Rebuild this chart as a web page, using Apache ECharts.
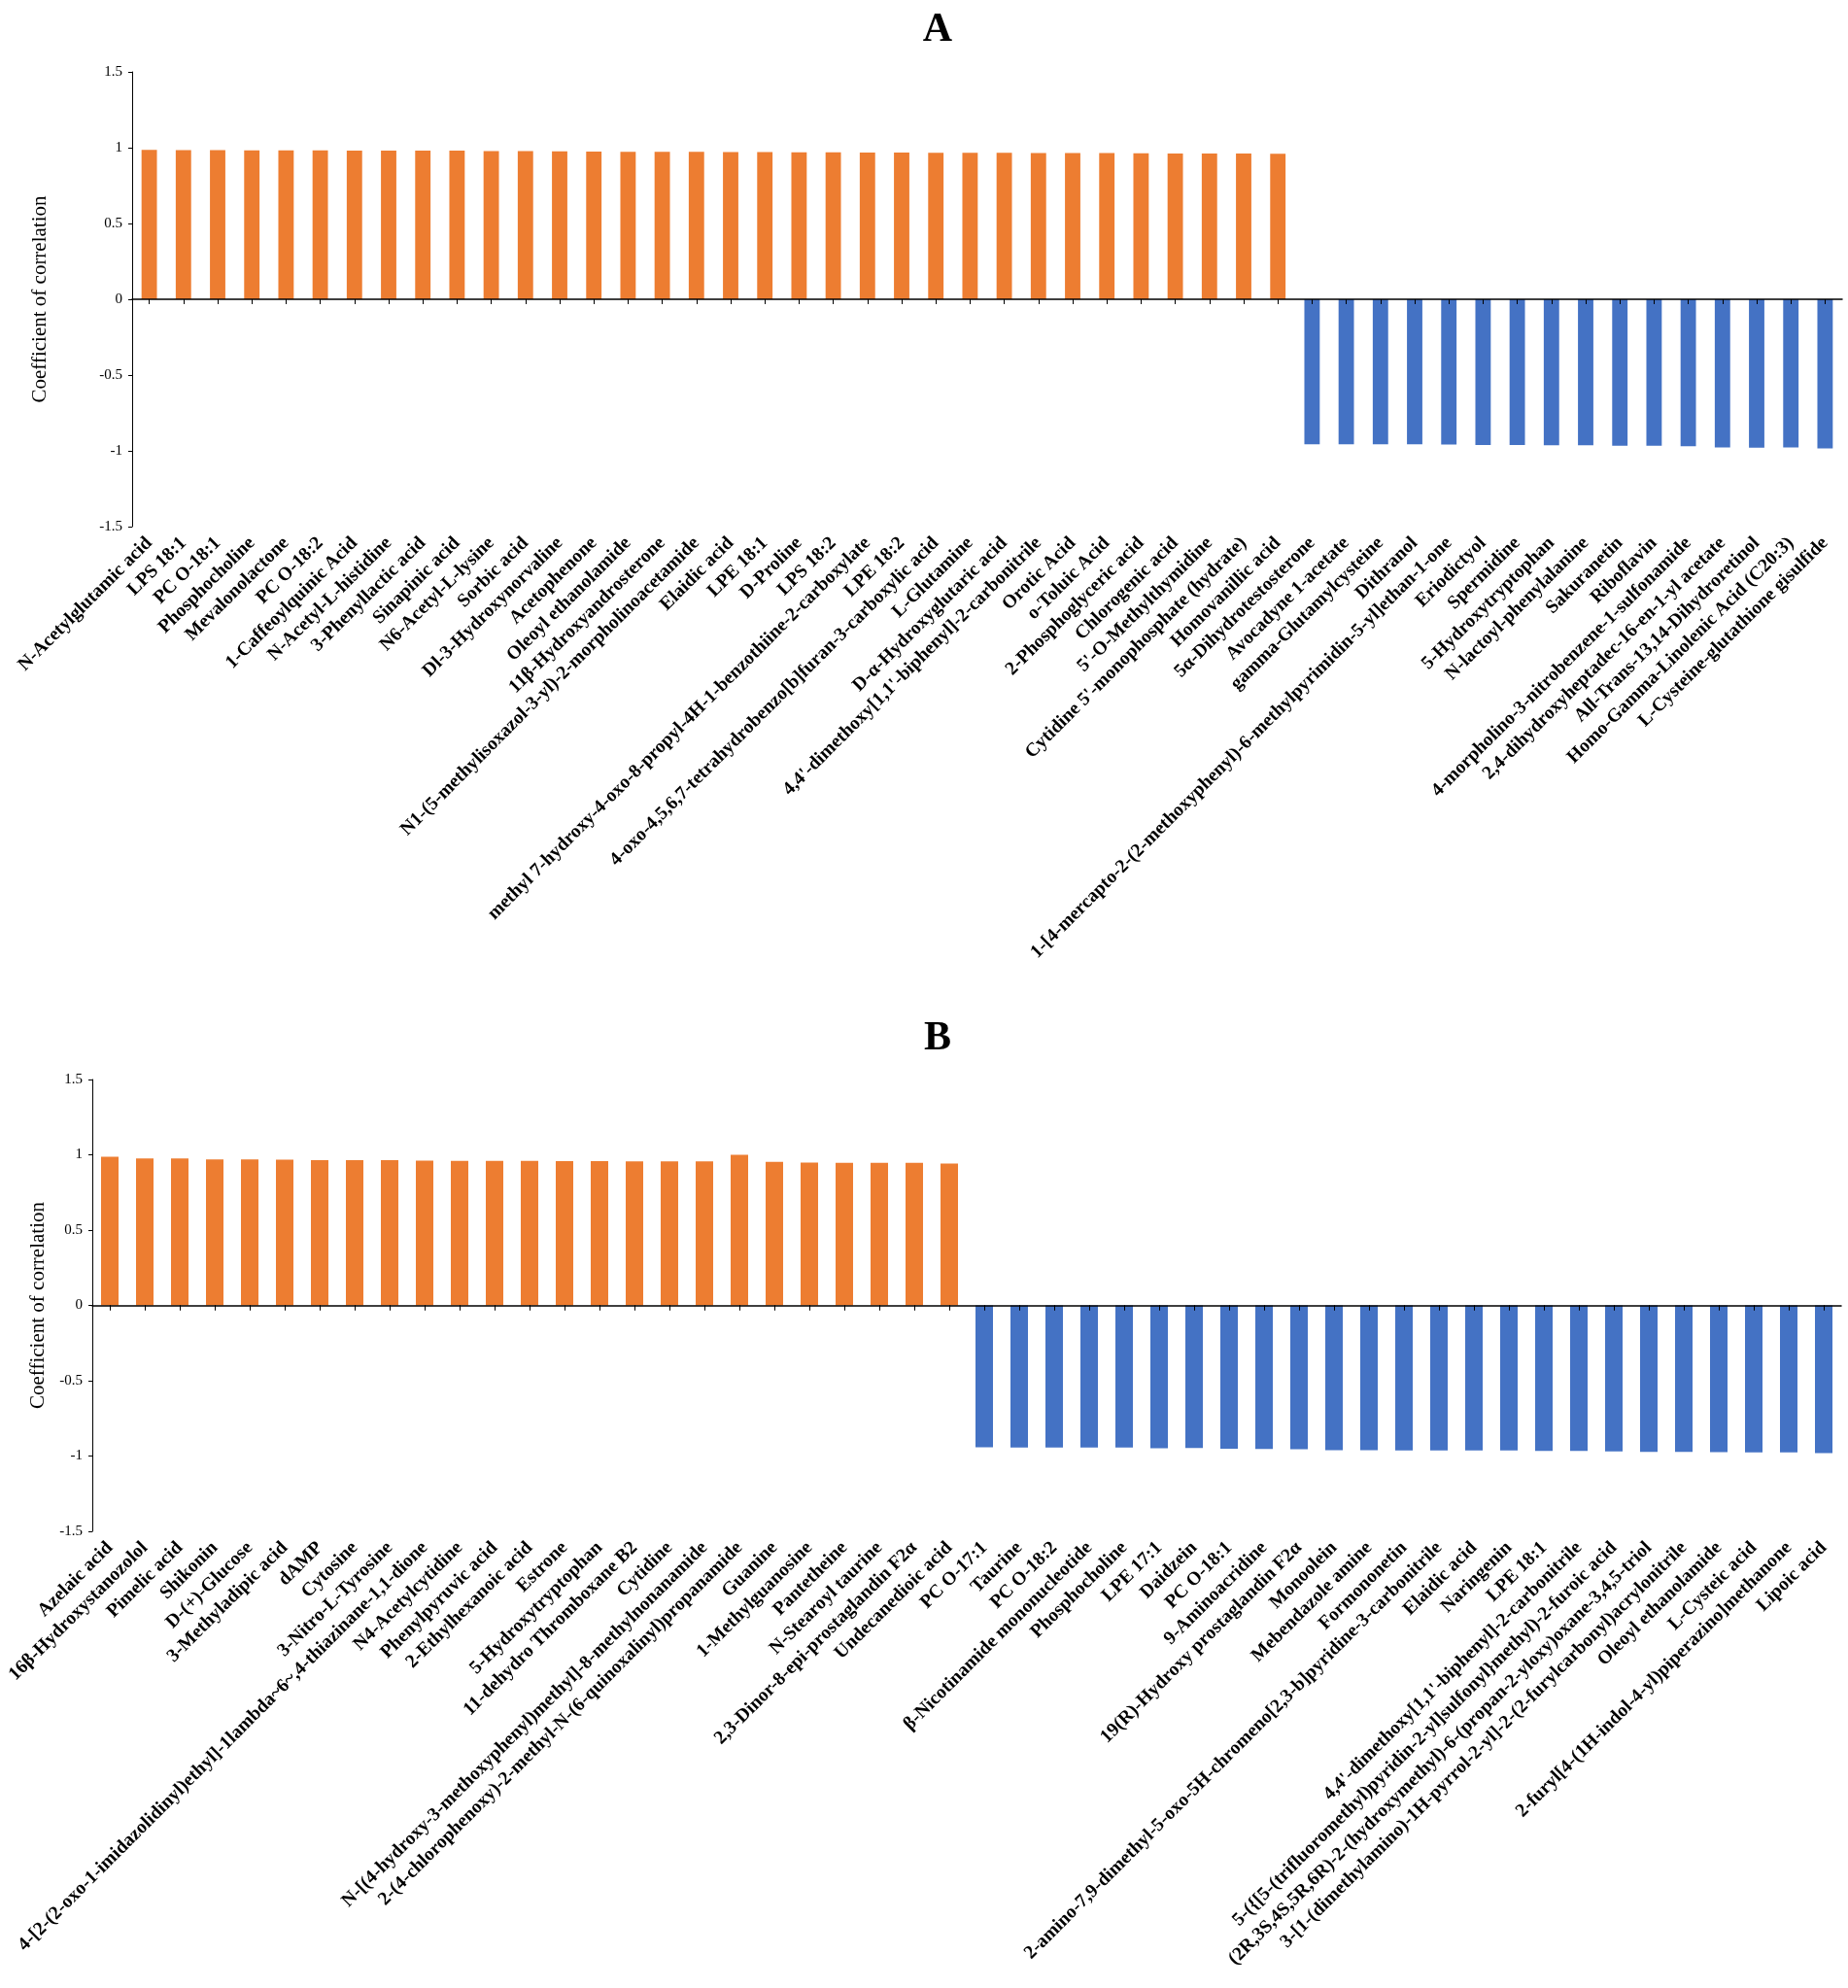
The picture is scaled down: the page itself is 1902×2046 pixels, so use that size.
<!DOCTYPE html>
<html>
<head>
<meta charset="utf-8" />
<style>
  html, body { margin: 0; padding: 0; background: #fff; }
  #main { width: 1902px; height: 2046px; }
</style>
</head>
<body>
<div id="main"></div>
<script src="https://cdn.jsdelivr.net/npm/echarts@6/dist/echarts.min.js"></script>
<script>
// ---- data ----
var categoriesA = [
  'N-Acetylglutamic acid', 'LPS 18:1', 'PC O-18:1', 'Phosphocholine', 'Mevalonolactone',
  'PC O-18:2', '1-Caffeoylquinic Acid', 'N-Acetyl-L-histidine', '3-Phenyllactic acid', 'Sinapinic acid',
  'N6-Acetyl-L-lysine', 'Sorbic acid', 'Dl-3-Hydroxynorvaline', 'Acetophenone', 'Oleoyl ethanolamide',
  '11β-Hydroxyandrosterone', 'N1-(5-methylisoxazol-3-yl)-2-morpholinoacetamide', 'Elaidic acid', 'LPE 18:1', 'D-Proline',
  'LPS 18:2', 'methyl 7-hydroxy-4-oxo-8-propyl-4H-1-benzothiine-2-carboxylate', 'LPE 18:2',
  '4-oxo-4,5,6,7-tetrahydrobenzo[b]furan-3-carboxylic acid', 'L-Glutamine',
  'D-α-Hydroxyglutaric acid', "4,4'-dimethoxy[1,1'-biphenyl]-2-carbonitrile", 'Orotic Acid', 'o-Toluic Acid', '2-Phosphoglyceric acid',
  'Chlorogenic acid', "5'-O-Methylthymidine", "Cytidine 5'-monophosphate (hydrate)", 'Homovanillic acid', '5α-Dihydrotestosterone',
  'Avocadyne 1-acetate', 'gamma-Glutamylcysteine', 'Dithranol',
  '1-[4-mercapto-2-(2-methoxyphenyl)-6-methylpyrimidin-5-yl]ethan-1-one', 'Eriodictyol',
  'Spermidine', '5-Hydroxytryptophan', 'N-lactoyl-phenylalanine', 'Sakuranetin', 'Riboflavin',
  '4-morpholino-3-nitrobenzene-1-sulfonamide', '2,4-dihydroxyheptadec-16-en-1-yl acetate', 'All-Trans-13,14-Dihydroretinol',
  'Homo-Gamma-Linolenic Acid (C20:3)', 'L-Cysteine-glutathione gisulfide'
];
var valuesA = [
  0.985, 0.984, 0.984, 0.983, 0.982, 0.982, 0.981, 0.981, 0.980, 0.980,
  0.977, 0.977, 0.976, 0.974, 0.973, 0.973, 0.972, 0.971, 0.971, 0.970,
  0.969, 0.968, 0.968, 0.967, 0.966, 0.966, 0.965, 0.964, 0.964, 0.963,
  0.962, 0.962, 0.961, 0.960,
  -0.957, -0.957, -0.957, -0.957, -0.958, -0.961, -0.961, -0.963, -0.963, -0.966,
  -0.966, -0.970, -0.977, -0.979, -0.978, -0.984
];

var categoriesB = [
  'Azelaic acid', '16β-Hydroxystanozolol', 'Pimelic acid', 'Shikonin', 'D-(+)-Glucose',
  '3-Methyladipic acid', 'dAMP', 'Cytosine', '3-Nitro-L-Tyrosine',
  '4-[2-(2-oxo-1-imidazolidinyl)ethyl]-1lambda~6~,4-thiazinane-1,1-dione',
  'N4-Acetylcytidine', 'Phenylpyruvic acid', '2-Ethylhexanoic acid', 'Estrone', '5-Hydroxytryptophan',
  '11-dehydro Thromboxane B2', 'Cytidine', 'N-[(4-hydroxy-3-methoxyphenyl)methyl]-8-methylnonanamide',
  '2-(4-chlorophenoxy)-2-methyl-N-(6-quinoxalinyl)propanamide', 'Guanine',
  '1-Methylguanosine', 'Pantetheine', 'N-Stearoyl taurine', '2,3-Dinor-8-epi-prostaglandin F2α', 'Undecanedioic acid',
  'PC O-17:1', 'Taurine', 'PC O-18:2', 'β-Nicotinamide mononucleotide', 'Phosphocholine',
  'LPE 17:1', 'Daidzein', 'PC O-18:1', '9-Aminoacridine', '19(R)-Hydroxy prostaglandin F2α',
  'Monoolein', 'Mebendazole amine', 'Formononetin',
  '2-amino-7,9-dimethyl-5-oxo-5H-chromeno[2,3-b]pyridine-3-carbonitrile', 'Elaidic acid',
  'Naringenin', 'LPE 18:1', "4,4'-dimethoxy[1,1'-biphenyl]-2-carbonitrile",
  '5-({[5-(trifluoromethyl)pyridin-2-yl]sulfonyl}methyl)-2-furoic acid',
  '(2R,3S,4S,5R,6R)-2-(hydroxymethyl)-6-(propan-2-yloxy)oxane-3,4,5-triol',
  '3-[1-(dimethylamino)-1H-pyrrol-2-yl]-2-(2-furylcarbonyl)acrylonitrile',
  'Oleoyl ethanolamide', 'L-Cysteic acid', '2-furyl[4-(1H-indol-4-yl)piperazino]methanone', 'Lipoic acid'
];
var valuesB = [
  0.987, 0.976, 0.976, 0.969, 0.969, 0.967, 0.964, 0.964, 0.964, 0.962,
  0.960, 0.960, 0.960, 0.958, 0.958, 0.956, 0.956, 0.956, 1.000, 0.953,
  0.949, 0.947, 0.947, 0.947, 0.942,
  -0.942, -0.944, -0.944, -0.944, -0.944, -0.948, -0.946, -0.951, -0.953, -0.955,
  -0.961, -0.961, -0.963, -0.963, -0.963, -0.963, -0.966, -0.966, -0.970, -0.972,
  -0.972, -0.974, -0.976, -0.976, -0.981
];

var yMin = -1.5, yMax = 1.5, yStep = 0.5;
var panelTitles = ['A', 'B'];
var axisName = 'Coefficient of correlation';

// ---- chart ----
var POS = '#ED7D31', NEG = '#4472C4';
var serif = 'Liberation Serif';

var panels = [
  { cats: categoriesA, vals: valuesA, grid: { left: 136, top: 74, width: 1760, height: 468 }, barW: '45%', nameGap: 84, titleTop: 5 },
  { cats: categoriesB, vals: valuesB, grid: { left: 95, top: 1111, width: 1800, height: 465 }, barW: '50%', nameGap: 43, titleTop: 1043 }
];

var option = { animation: false, backgroundColor: '#fff', title: [], grid: [], xAxis: [], yAxis: [], series: [] };

panels.forEach(function (p, g) {
  option.title.push({
    text: panelTitles[g], left: 960, top: p.titleTop, textAlign: 'center',
    textStyle: { fontFamily: serif, fontWeight: 'bold', fontSize: 42, color: '#000' }
  });
  option.grid.push(p.grid);
  option.yAxis.push({
    gridIndex: g, type: 'value', min: yMin, max: yMax, interval: yStep,
    name: axisName, nameLocation: 'middle', nameGap: p.nameGap,
    nameTextStyle: { fontFamily: serif, fontSize: 21, color: '#000' },
    axisLine: { show: true, lineStyle: { color: '#000', width: 1 } },
    axisTick: { show: true, length: 4, lineStyle: { color: '#000' } },
    axisLabel: { fontFamily: serif, fontSize: 15, color: '#000', margin: 10 },
    splitLine: { show: false }
  });
  var base = option.xAxis.length;
  // zero line with downward ticks (drawn above the bars)
  option.xAxis.push({
    gridIndex: g, type: 'category', data: p.cats, z: 5,
    axisLine: { onZero: true, onZeroAxisIndex: g, lineStyle: { color: '#000', width: 1.5 } },
    axisTick: { show: true, interval: 0, alignWithLabel: true, length: 5, lineStyle: { color: '#000' } },
    axisLabel: { show: false, interval: 0 }
  });
  // upward ticks on the zero line
  option.xAxis.push({
    gridIndex: g, type: 'category', data: p.cats, z: 5,
    axisLine: { show: false, onZero: true, onZeroAxisIndex: g },
    axisTick: { show: true, interval: 0, inside: true, alignWithLabel: true, length: 5, lineStyle: { color: '#000' } },
    axisLabel: { show: false, interval: 0 }
  });
  // labels at the bottom of the plot
  option.xAxis.push({
    gridIndex: g, type: 'category', data: p.cats, position: 'bottom',
    axisLine: { show: false, onZero: false },
    axisTick: { show: false },
    axisLabel: {
      interval: 0, rotate: 45, margin: 14,
      fontFamily: serif, fontWeight: 'bold', fontSize: 19.5, color: '#000'
    }
  });
  option.series.push({
    type: 'bar', xAxisIndex: base, yAxisIndex: g, data: p.vals, barWidth: p.barW,
    itemStyle: { color: function (d) { return d.value >= 0 ? POS : NEG; } }
  });
});

var chart = echarts.init(document.getElementById('main'));
chart.setOption(option);
</script>
</body>
</html>
